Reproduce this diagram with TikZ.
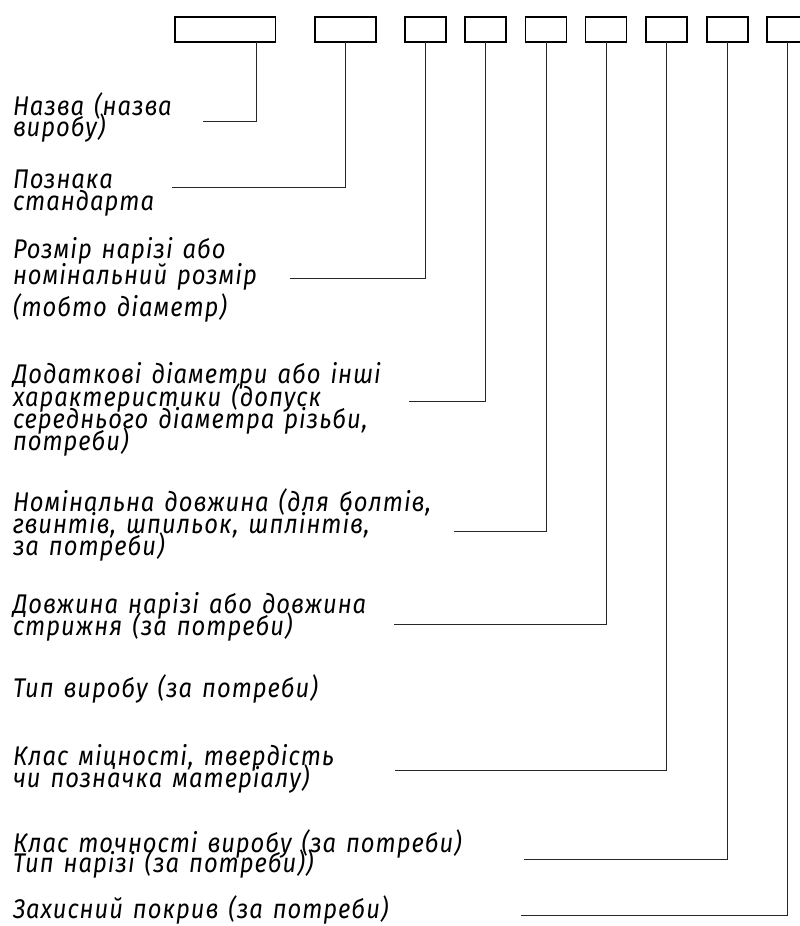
\documentclass[tikz,border=0pt]{standalone}
\usepackage{fontspec}
\setmainfont{Fira Sans}[FakeStretch=0.88, LetterSpace=3.6, WordSpace=1.4]
\begin{document}
\begin{tikzpicture}[x=1pt,y=-1pt,
  fld/.style={draw=black, line width=1.6pt, minimum height=25pt, inner sep=0pt, outer sep=0pt},
  fldsmall/.style={fld, minimum width=41pt},
  lead/.style={draw=black!85, line width=0.9pt},
  lbl/.style={anchor=base west, inner sep=0pt, outer sep=0pt, font=\fontsize{27}{21}\selectfont\itshape}]
\useasboundingbox (0,0) rectangle (800,926);
\clip (0,0) rectangle (800,926);
% fields of the designation
\node[fld, minimum width=100.8pt] (b1) at (225.1,29.5) {};
\node[fld, minimum width=61.2pt] (b2) at (345.3,29.5) {};
\node[fldsmall] (b3) at (425.3,29.5) {};
\node[fldsmall] (b4) at (485.3,29.5) {};
\node[fldsmall] (b5) at (546.1,29.5) {};
\node[fldsmall] (b6) at (606.1,29.5) {};
\node[fldsmall] (b7) at (666.7,29.5) {};
\node[fldsmall] (b8) at (727.2,29.5) {};
\node[fldsmall] (b9) at (787.5,29.5) {};
% labels
\node[lbl] (t1a) at (13,115) {Назва (назва};
\node[lbl] (t1b) at (13,136) {виробу)};
\node[lbl] (t2a) at (13,188) {Познака};
\node[lbl] (t2b) at (13,210) {стандарта};
\node[lbl] (t3a) at (13,258) {Розмір нарізі або};
\node[lbl] (t3b) at (13,284) {номінальний розмір};
\node[lbl] (t3c) at (13,316) {(тобто діаметр)};
\node[lbl] (t4a) at (13,383) {Додаткові діаметри або інші};
\node[lbl] (t4b) at (13,406) {характеристики (допуск};
\node[lbl] (t4c) at (13,428) {середнього діаметра різьби,};
\node[lbl] (t4d) at (13,450) {потреби)};
\node[lbl] (t5a) at (13,511) {Номінальна довжина (для болтів,};
\node[lbl] (t5b) at (13,533) {гвинтів, шпильок, шплінтів,};
\node[lbl] (t5c) at (13,555) {за потреби)};
\node[lbl] (t6a) at (13,613) {Довжина нарізі або довжина};
\node[lbl] (t6b) at (13,635) {стрижня (за потреби)};
\node[lbl] (t7a) at (13,697) {Тип виробу (за потреби)};
\node[lbl] (t8a) at (13,765) {Клас міцності, твердість};
\node[lbl] (t8b) at (13,787) {чи позначка матеріалу)};
\node[lbl] (t9a) at (13,852) {Клас точності виробу (за потреби)};
\node[lbl] (t9b) at (13,872) {Тип нарізі (за потреби))};
\node[lbl] (t10a) at (13,918) {Захисний покрив (за потреби)};
% free ends of the leaders
\coordinate (e1) at (202.7,121.7);
\coordinate (e2) at (172,187.7);
\coordinate (e3) at (290,278.3);
\coordinate (e4) at (409,401.7);
\coordinate (e5) at (453.5,531);
\coordinate (e6) at (393.5,624.3);
\coordinate (e7) at (395,770.7);
\coordinate (e8) at (524,859.3);
\coordinate (e9) at (520.7,915);
% leaders
\draw[lead] ([xshift=31.6pt]b1.south) |- (e1);
\draw[lead] (b2.south) |- (e2);
\draw[lead] (b3.south) |- (e3);
\draw[lead] (b4.south) |- (e4);
\draw[lead] (b5.south) |- (e5);
\draw[lead] (b6.south) |- (e6);
\draw[lead] (b7.south) |- (e7);
\draw[lead] (b8.south) |- (e8);
\draw[lead] (b9.south) |- (e9);
\end{tikzpicture}
\end{document}
